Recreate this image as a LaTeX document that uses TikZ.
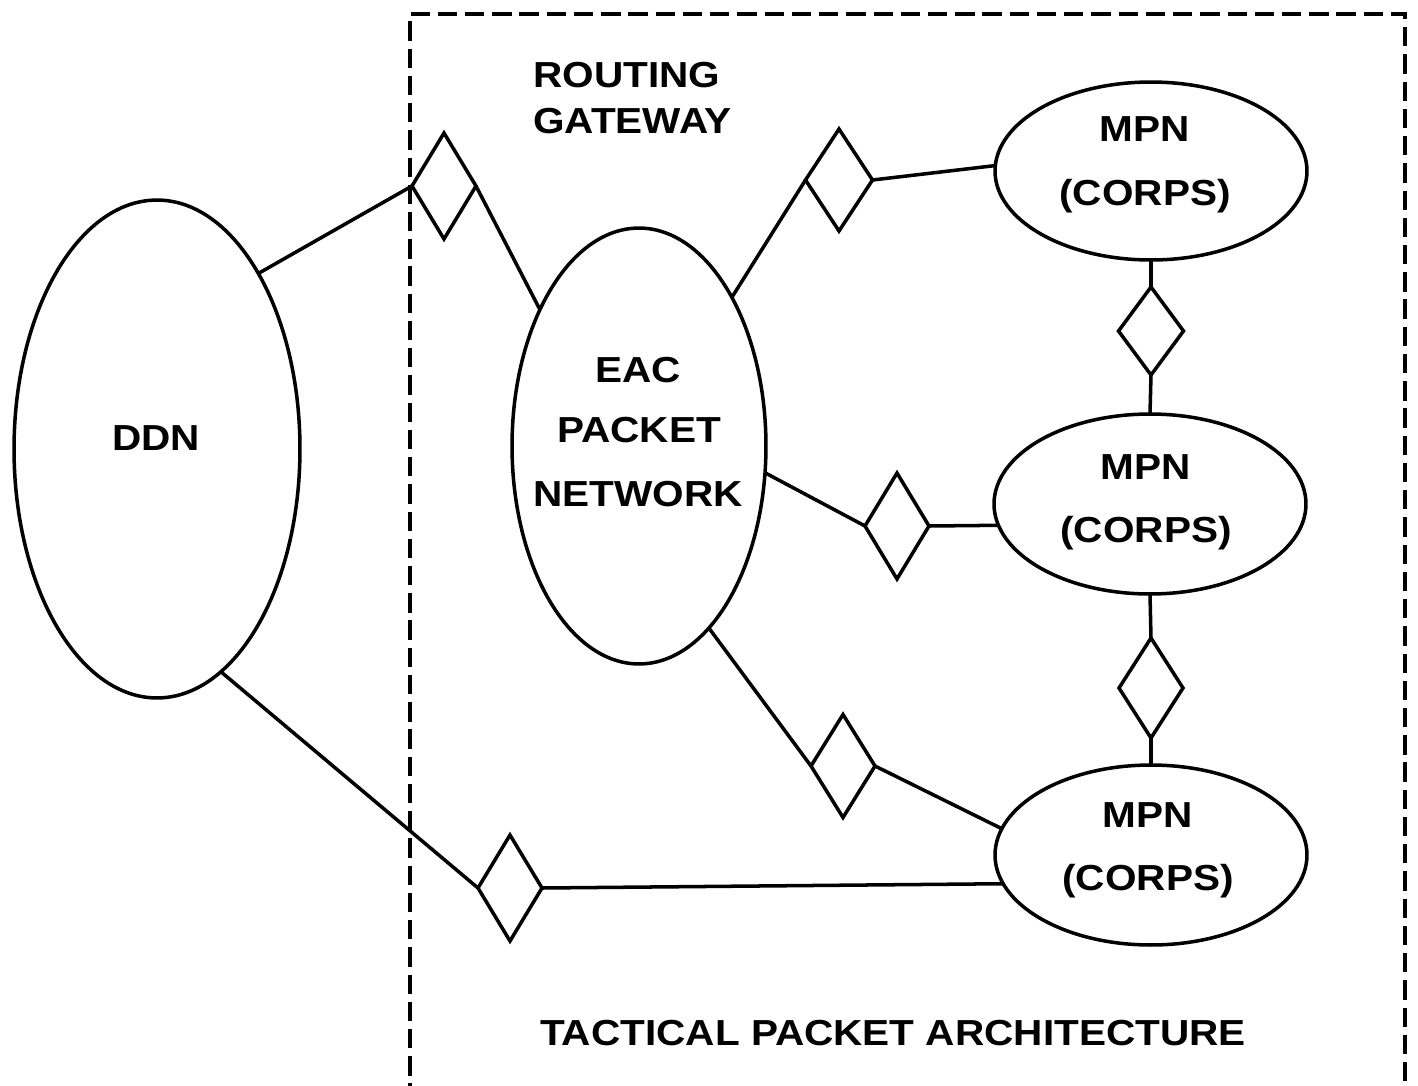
\documentclass[tikz,border=0pt]{standalone}
\usepackage{fontspec}
\newfontfamily\lbl{Liberation Sans}[FakeStretch=1.12]
\usetikzlibrary{shapes.geometric}
\begin{document}
\begin{tikzpicture}[x=0.02cm,y=-0.02cm,
  net/.style={ellipse,draw,line width=2pt,inner sep=0pt,outer sep=0pt},
  gw/.style={diamond,draw,line width=2pt,inner sep=0pt,outer sep=0pt,minimum width=1.28cm,minimum height=2.12cm},
  txt/.style={font=\lbl\bfseries\fontsize{20.6}{24}\selectfont,inner sep=0pt,anchor=base},
  link/.style={line width=2pt},
  boundary/.style={line width=1.8pt,dash pattern=on 11pt off 4.5pt}]
\useasboundingbox (0,0) rectangle (1418,1086);
\fill[white] (0,0) rectangle (1418,1086);
\begin{scope}
\clip (0,0) rectangle (1418,1086);
\draw[boundary] (410,1130) -- (410,14) -- (1405,14) -- (1405,1130);
\end{scope}
% networks
\node[net,minimum width=5.72cm,minimum height=9.96cm] (ddn) at (157,449) {};
\node[net,minimum width=5.08cm,minimum height=8.72cm] (eac) at (639,446) {};
\node[net,minimum width=6.24cm,minimum height=3.56cm] (mpn1) at (1151,171) {};
\node[net,minimum width=6.24cm,minimum height=3.6cm] (mpn2) at (1150,504) {};
\node[net,minimum width=6.24cm,minimum height=3.6cm] (mpn3) at (1151,855) {};
% gateways
\node[gw] (d1) at (444,186) {};
\node[gw,minimum width=1.34cm,minimum height=2.04cm] (d2) at (839,180) {};
\node[gw] (d3) at (897,526) {};
\node[gw,minimum height=2.06cm] (d4) at (843,766) {};
\node[gw,minimum width=1.3cm,minimum height=1.76cm] (d5) at (1151,331) {};
\node[gw,minimum height=2.0cm] (d6) at (1151,688) {};
\node[gw] (d7) at (510,888) {};
% links
\draw[link] (ddn.60) -- (d1.west);
\draw[link] (d1.east) -- (eac.126);
\draw[link] (eac.58) -- (d2.west);
\draw[link] (d2.east) -- (mpn1.178);
\draw[link] (eac.-12) -- (d3.west);
\draw[link] (d3.east) -- (mpn2.188);
\draw[link] (eac.-69) -- (d4.west);
\draw[link] (d4.east) -- (mpn3.170);
\draw[link] (ddn.-74) -- (d7.west);
\draw[link] (d7.east) -- (mpn3.191);
\draw[link] (mpn1.south) -- (d5.north);
\draw[link] (d5.south) -- (mpn2.north);
\draw[link] (mpn2.south) -- (d6.north);
\draw[link] (d6.south) -- (mpn3.north);
% labels
\node[txt,anchor=base west] (rg1) at (533,87) {ROUTING};
\node[txt,anchor=base west] (rg2) at (533,133) {GATEWAY};
\node[txt] (tddn) at (156,450) {DDN};
\node[txt] (te1) at (638,382) {EAC};
\node[txt] (te2) at (639,442) {PACKET};
\node[txt] (te3) at (638,506) {NETWORK};
\node[txt] (tm1a) at (1145,141) {MPN};
\node[txt] (tm1b) at (1145,205) {(CORPS)};
\node[txt] (tm2a) at (1146,479) {MPN};
\node[txt] (tm2b) at (1146,542) {(CORPS)};
\node[txt] (tm3a) at (1148,827) {MPN};
\node[txt] (tm3b) at (1148,890) {(CORPS)};
\node[txt] (ttpa) at (893,1045) {TACTICAL PACKET ARCHITECTURE};
\end{tikzpicture}
\end{document}
